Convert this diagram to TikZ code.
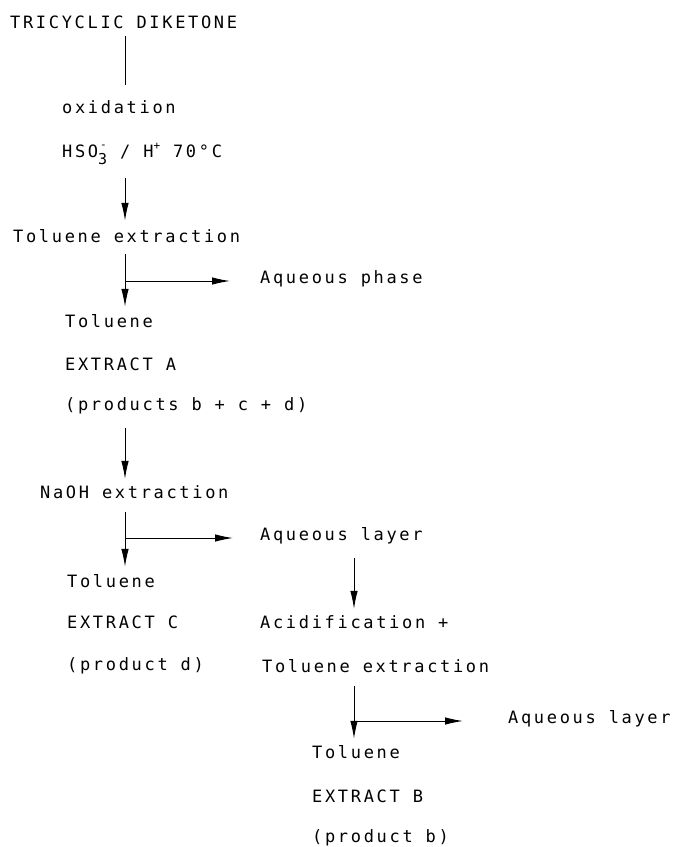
\documentclass[tikz,border=0pt]{standalone}
\usepackage{fontspec}
\setmainfont{DejaVu Sans Mono}[LetterSpace=15.7]
\usetikzlibrary{arrows.meta}

\tikzstyle{label} = [anchor=base west, inner sep=0pt, font=\fontsize{17}{20}\selectfont]
\tikzstyle{arrow} = [draw, line width=1pt, -{Latex[length=18pt,width=7.5pt]}]
\tikzstyle{line} = [draw, line width=1pt]

\begin{document}
\begin{tikzpicture}[x=1pt, y=-1pt]
    \useasboundingbox (0,0) rectangle (675,847);
    \coordinate (colA) at (125,0);
    \coordinate (colB) at (354,0);

    % left column
    \node[label] (diketone) at (10,28) {TRICYCLIC DIKETONE};
    \node[label] (oxid) at (62,113) {oxidation};
    \node[label] (reagent) at (62,157) {HSO\rlap{\hspace{2pt}\raisebox{9pt}{\fontsize{11}{11}\selectfont -}}\raisebox{-7pt}{\fontsize{15}{15}\selectfont 3} / H\raisebox{8pt}{\fontsize{11}{11}\selectfont +} 70°C};
    \node[label] (tolext) at (13,242) {Toluene extraction};
    \node[label] (aqphase) at (260,283) {Aqueous phase};
    \node[label] (tolA) at (65,327) {Toluene};
    \node[label] (extA) at (65,370) {EXTRACT A};
    \node[label] (prodA) at (65,410) {(products b + c + d)};
    \node[label] (naoh) at (40,498) {NaOH extraction};
    \node[label] (aqlayer) at (260,540) {Aqueous layer};
    \node[label] (tolC) at (67,587) {Toluene};
    \node[label] (extC) at (67,628) {EXTRACT C};
    \node[label] (prodC) at (67,670) {(product d)};

    % right column
    \node[label] (acid) at (260,628) {Acidification +};
    \node[label] (tolext2) at (262,672) {Toluene extraction};
    \node[label] (aqlayer2) at (508,723) {Aqueous layer};
    \node[label] (tolB) at (312,758) {Toluene};
    \node[label] (extB) at (312,802) {EXTRACT B};
    \node[label] (prodB) at (312,842) {(product b)};

    % split points
    \coordinate (splitA) at (125,281);
    \coordinate (splitC) at (125,538);
    \coordinate (splitB) at (354,721);

    % lines
    \draw [line, shorten <=8pt, shorten >=15pt] (diketone.south -| colA) to (oxid.north -| colA);
    \draw [arrow, shorten <=14pt, shorten >=8pt] (reagent.south -| colA) to (tolext.north -| colA);
    \draw [arrow, shorten <=12pt, shorten >=7pt] (tolext.south -| colA) to (tolA.north -| colA);
    \draw [arrow, shorten >=30pt] (splitA) to (splitA -| aqphase.west);
    \draw [arrow, shorten <=14pt, shorten >=6pt] (prodA.south -| colA) to (naoh.north -| colA);
    \draw [arrow, shorten <=14pt, shorten >=7pt] (naoh.south -| colA) to (tolC.north -| colA);
    \draw [arrow, shorten >=27pt] (splitC) to (splitC -| aqlayer.west);
    \draw [arrow, shorten <=14pt, shorten >=6pt] (aqlayer.south -| colB) to (acid.north -| colB);
    \draw [arrow, shorten <=14pt, shorten >=6pt] (tolext2.south -| colB) to (tolB.north -| colB);
    \draw [arrow, shorten >=45pt] (splitB) to (splitB -| aqlayer2.west);
\end{tikzpicture}
\end{document}
